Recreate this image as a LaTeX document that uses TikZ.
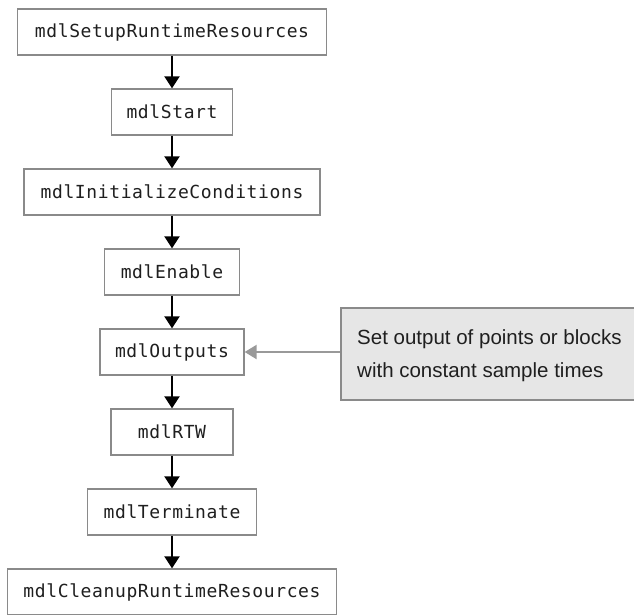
\documentclass[tikz,border=0pt]{standalone}
\usepackage{fontspec}
\setmainfont{Liberation Sans}
\newfontfamily\monofont[LetterSpace=3.4]{DejaVu Sans Mono}
\usetikzlibrary{arrows.meta}
\definecolor{boxborder}{HTML}{8A8A8A}
\definecolor{notefill}{HTML}{E6E6E6}
\definecolor{notearrow}{HTML}{999999}
\tikzset{
  fnbox/.style={draw=boxborder, line width=1.3pt, fill=white, minimum height=46pt, inner sep=0pt,
    text=black!88, font=\monofont\fontsize{18}{20}\selectfont},
  flow/.style={line width=2pt, -{Triangle[width=15pt,length=12pt]}},
  notebox/.style={draw=boxborder, line width=1.3pt, fill=notefill, inner sep=0pt},
  notetxt/.style={inner sep=0pt, align=left, font=\fontsize{20.5}{33}\selectfont, text=black!88},
  notearr/.style={draw=notearrow, line width=2.2pt, -{Triangle[width=14pt,length=12pt]}}
}
\begin{document}
\begin{tikzpicture}[x=1pt, y=-1pt]
\useasboundingbox (0,0) rectangle (634,614);
\node[fnbox, minimum width=309pt] (setup) at (172,32) {mdlSetupRuntimeResources};
\node[fnbox, minimum width=121pt] (start) at (172,112) {mdlStart};
\node[fnbox, minimum width=296pt] (init) at (172,192) {mdlInitializeConditions};
\node[fnbox, minimum width=135pt] (enable) at (172,272) {mdlEnable};
\node[fnbox, minimum width=144pt] (outputs) at (172,352) {mdlOutputs};
\node[fnbox, minimum width=122pt] (rtw) at (172,432) {mdlRTW};
\node[fnbox, minimum width=169pt] (term) at (172,512) {mdlTerminate};
\node[fnbox, minimum width=329pt] (cleanup) at (172,592) {mdlCleanupRuntimeResources};
\node[notebox, minimum width=300pt, minimum height=92pt] (note) at (491,354) {};
\node[notetxt, anchor=west] (notetext) at (357,356) {Set output of points or blocks\\with constant sample times};
\draw[flow] (setup) -- (start);
\draw[flow] (start) -- (init);
\draw[flow] (init) -- (enable);
\draw[flow] (enable) -- (outputs);
\draw[flow] (outputs) -- (rtw);
\draw[flow] (rtw) -- (term);
\draw[flow] (term) -- (cleanup);
\draw[notearr] (note.west |- outputs.east) -- (outputs.east);
\end{tikzpicture}
\end{document}
